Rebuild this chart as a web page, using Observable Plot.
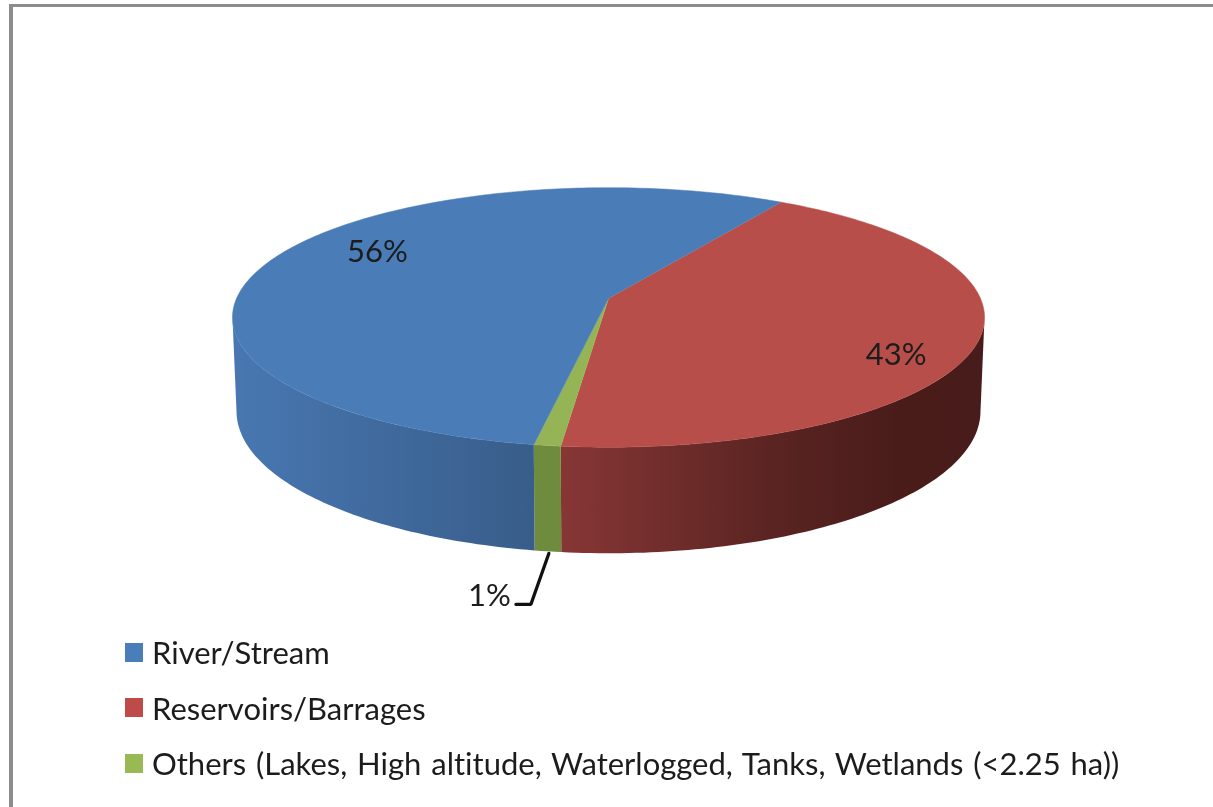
<!DOCTYPE html>
<html>
<head>
<meta charset="utf-8">
<script src="https://cdn.jsdelivr.net/npm/d3@7"></script>
<script src="https://cdn.jsdelivr.net/npm/@observablehq/plot@0.6"></script>
<style>
  html, body { margin: 0; padding: 0; background: #fff; overflow: hidden; }
  body { position: relative; width: 1213px; height: 807px; font-family: Lato, sans-serif; color: #1c1c1c; }
  #frame { position: absolute; left: 9px; top: 4px; width: 1300px; height: 900px; border-left: 4px solid #8c8c8c; border-top: 3px solid #8c8c8c; box-sizing: border-box; }
  #chart { position: absolute; left: 0; top: 0; filter: blur(0.4px); }
  #chart svg { display: block; }
  #legend { position: absolute; left: 125px; top: 624px; filter: blur(0.4px); }
  .row { position: absolute; left: 0; height: 56px; display: flex; align-items: center; white-space: nowrap; font-size: 31px; font-variant-ligatures: none; word-spacing: 1.9px; }
  .swatch { width: 18px; height: 19px; margin-right: 9px; flex: none; }
</style>
</head>
<body>
<div id="frame"></div>
<div id="chart"></div>
<div id="legend"></div>
<script>
// ---- data ----
const categories = ["River/Stream", "Reservoirs/Barrages", "Others (Lakes, High altitude, Waterlogged, Tanks, Wetlands (<2.25 ha))"];
const shares = [56, 43, 1];
const shareLabels = ["56%", "43%", "1%"];

// ---- style ----
const faceColors = ["#4a7db8", "#b84e4a", "#94b455"];
const legendColors = ["#4a7ebb", "#be4b48", "#98b954"];
const rimStops = [
  [["0", "#4877b1"], ["1", "#385d8a"]],
  [["0", "#863635"], ["0.5", "#5a2422"], ["0.8", "#491c1a"], ["1", "#481c1a"]],
  [["0", "#6f8c3e"], ["1", "#6f8c3e"]]
];

// ---- 3-D projection of the pie disc ----
const W = 1213, H = 624;
const startAngle = 31.5;             // first slice (Reservoirs) begins here, clockwise from the back
const persp = 0.146;
const topDisc = {cx: 608, cy: 298, a: 372, b: 127};
const baseDisc = {cx: 608, cy: 390, a: 368, b: 139};
const rad = Math.PI / 180;
function project(disc, deg, r = 1) {
  const u = r * Math.sin(deg * rad), v = r * Math.cos(deg * rad), w = 1 + persp * v;
  return {x: disc.cx + disc.a * u / w, y: disc.cy - disc.b * v / w};
}
function arc(disc, from, to) {
  const n = Math.max(2, Math.ceil(Math.abs(to - from)));
  return d3.range(n + 1).map(i => project(disc, from + (to - from) * i / n));
}

// slices are clockwise in the order red, green, blue
const order = [1, 2, 0];
let cursor = startAngle;
const slices = order.map(i => {
  const s = {i, from: cursor, to: cursor + shares[i] * 3.6};
  cursor = s.to;
  s.mid = (s.from + s.to) / 2;
  return s;
});
const sliceOf = i => slices.find(s => s.i === i);

// visible front rim runs between the two widest points of the disc
const rimFrom = Math.acos(-persp) / rad, rimTo = 360 - rimFrom;
const rimOf = s => {
  const a = Math.max(s.from, rimFrom), b = Math.min(s.to, rimTo);
  return [...arc(topDisc, a, b), ...arc(baseDisc, b, a)];
};
const faceOf = s => [{x: topDisc.cx, y: topDisc.cy}, ...arc(topDisc, s.from, s.to)];

const gradientDefs = () => {
  const defs = d3.create("svg:defs");
  rimStops.forEach((stops, i) => {
    const g = defs.append("linearGradient").attr("id", "rim" + i)
      .attr("x1", 0).attr("x2", 1).attr("y1", 0).attr("y2", 0);
    stops.forEach(([o, c]) => g.append("stop").attr("offset", o).attr("stop-color", c));
  });
  return defs.node();
};

const leaderStart = project(baseDisc, sliceOf(2).mid);
const leader = [
  {x: leaderStart.x + 1, y: leaderStart.y + 2},
  {x: leaderStart.x - 17, y: leaderStart.y + 53},
  {x: leaderStart.x - 32, y: leaderStart.y + 53}
];
const labelAt = i => project(topDisc, sliceOf(i).mid, i === 0 ? 0.7 : 0.75);
const label = (i, p, opts) => Plot.text([{x: p.x, y: p.y, text: shareLabels[i]}], {
  fontFamily: "Lato, sans-serif", fontSize: 31, fill: "#1c1c1c", text: "text", x: "x", y: "y", ...opts
});

const plot = Plot.plot({
  width: W, height: H,
  margin: 0,
  x: {domain: [0, W], range: [0, W], axis: null},
  y: {domain: [0, H], range: [0, H], axis: null},
  style: {background: "transparent"},
  marks: [
    gradientDefs,
    ...slices.map(s => Plot.line(rimOf(s), {x: "x", y: "y", fill: `url(#rim${s.i})`, stroke: "none"})),
    ...slices.map(s => Plot.line(faceOf(s), {x: "x", y: "y", fill: faceColors[s.i], stroke: faceColors[s.i], strokeWidth: 0.5})),
    Plot.line(leader, {x: "x", y: "y", stroke: "#111", strokeWidth: 3.2, strokeLinejoin: "miter"}),
    label(0, labelAt(0), {dx: 4, dy: -16}),
    label(1, labelAt(1), {dx: 14, dy: 25}),
    label(2, leader[2], {textAnchor: "end", dx: -5, dy: -8})
  ]
});
document.getElementById("chart").append(plot);

const legend = document.getElementById("legend");
categories.forEach((c, i) => {
  const row = document.createElement("div");
  row.className = "row";
  row.style.top = (i * 55.5) + "px";
  const sw = document.createElement("span");
  sw.className = "swatch";
  sw.style.background = legendColors[i];
  const tx = document.createElement("span");
  tx.textContent = c;
  row.append(sw, tx);
  legend.append(row);
});
</script>
</body>
</html>
